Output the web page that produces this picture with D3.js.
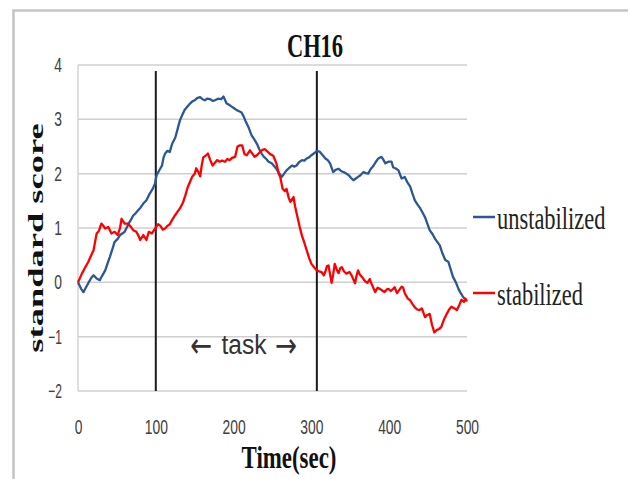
<!DOCTYPE html>
<html>
<head>
<meta charset="utf-8">
<script src="https://cdn.jsdelivr.net/npm/d3@7"></script>
<style>
  html, body { margin: 0; padding: 0; background: #fff; }
  svg { display: block; }
</style>
</head>
<body>
<svg id="chart" width="628" height="479"></svg>
<script>
// ---- data ----
const titleText = "CH16";
const yTicks = [-2, -1, 0, 1, 2, 3, 4];
const xTicks = [0, 100, 200, 300, 400, 500];
const taskMarkers = [100, 307];
const seriesNames = ["unstabilized", "stabilized"];

const blueTime = [0,4,7,10,13,17,20,24,28,31,35,38,41,44,47,51,54,57,60,63,65,68,71,74,77,80,84,88,92,96,99,101,104,108,110,112,115,118,121,125,128,131,134,137,141,144,147,150,153,157,160,163,166,170,173,176,180,184,187,191,194,198,201,204,207,210,213,215,219,223,227,230,233,236,239,242,245,249,252,255,258,262,265,268,271,275,278,281,284,288,291,294,297,300,304,307,311,314,318,321,324,328,331,335,338,341,344,348,351,354,357,360,363,367,370,373,376,380,383,386,390,392,395,399,403,405,409,412,414,416,420,423,427,430,433,436,440,443,446,449,452,456,459,462,465,468,472,476,479,482,486,489,492,495,497];
const blueValue = [0,-0.12,-0.18,-0.1,-0.02,0.08,0.13,0.07,0.04,0.12,0.22,0.35,0.47,0.6,0.74,0.8,0.87,0.9,0.93,1.02,1.08,1.15,1.23,1.27,1.32,1.37,1.45,1.51,1.63,1.72,1.82,1.97,2.05,2.15,2.3,2.37,2.42,2.4,2.55,2.66,2.82,2.98,3.08,3.17,3.24,3.29,3.33,3.35,3.39,3.41,3.37,3.35,3.38,3.37,3.34,3.35,3.38,3.37,3.42,3.29,3.27,3.23,3.2,3.17,3.15,3.13,3.05,2.98,2.86,2.71,2.62,2.55,2.45,2.37,2.31,2.27,2.22,2.19,2.14,2.09,2.02,1.94,2.0,2.06,2.1,2.15,2.13,2.15,2.21,2.25,2.24,2.28,2.3,2.34,2.38,2.42,2.4,2.35,2.28,2.25,2.19,2.03,2.07,2.09,2.05,2.03,2.01,1.97,1.92,1.88,1.91,1.94,1.97,2.03,2.01,2.0,2.08,2.15,2.22,2.28,2.31,2.27,2.19,2.22,2.22,2.12,2.09,2.06,1.98,1.91,1.94,1.85,1.76,1.63,1.51,1.44,1.36,1.28,1.2,1.08,0.96,0.88,0.8,0.74,0.68,0.55,0.41,0.38,0.24,0.1,-0.01,-0.12,-0.2,-0.27,-0.3];

const redTime = [0,5,9,13,17,20,22,24,27,30,32,35,39,43,47,51,54,56,60,64,68,71,75,78,80,84,88,91,95,99,103,106,109,112,115,118,121,125,128,131,135,138,141,144,147,150,152,155,157,159,161,164,167,170,173,176,179,182,185,189,192,195,198,202,205,208,211,214,217,221,224,227,230,234,237,240,244,247,251,255,258,260,263,266,268,271,273,277,279,281,285,288,290,294,297,300,304,307,310,313,316,318,320,322,324,326,328,330,333,335,337,339,342,345,349,352,356,358,360,362,365,369,372,375,378,382,385,388,391,394,397,399,402,405,407,410,413,416,418,420,424,427,430,433,436,439,442,446,449,452,455,458,461,464,467,470,474,477,480,484,487,490,493,496,498,500];
const redValue = [0,0.16,0.27,0.37,0.5,0.59,0.75,0.9,0.95,1.08,1.05,0.99,1.02,0.9,0.93,0.87,1.0,1.17,1.08,1.08,1.02,0.96,0.93,0.85,0.78,0.87,0.78,0.93,0.9,0.99,1.07,1.04,0.97,0.99,1.04,1.07,1.15,1.24,1.3,1.36,1.47,1.6,1.75,1.85,1.95,2.0,2.1,2.02,1.95,2.15,2.3,2.33,2.37,2.25,2.15,2.2,2.25,2.22,2.24,2.22,2.27,2.25,2.29,2.31,2.5,2.52,2.52,2.36,2.34,2.43,2.37,2.31,2.34,2.4,2.44,2.45,2.4,2.36,2.33,2.19,2.0,1.94,1.72,1.68,1.72,1.55,1.48,1.57,1.4,1.27,1.02,0.85,0.77,0.59,0.45,0.34,0.27,0.22,0.2,0.19,0.13,0.2,0.3,0.31,0.15,-0.01,0.15,0.34,0.22,0.17,0.26,0.28,0.2,0.16,0.19,0.12,-0.02,0.12,0.22,0.15,0.1,0.02,-0.01,0.06,-0.05,-0.18,-0.1,-0.12,-0.15,-0.18,-0.13,-0.12,-0.16,-0.12,-0.09,-0.2,-0.14,-0.08,-0.1,-0.2,-0.3,-0.33,-0.4,-0.46,-0.5,-0.51,-0.48,-0.64,-0.6,-0.58,-0.78,-0.92,-0.88,-0.86,-0.82,-0.7,-0.58,-0.5,-0.45,-0.48,-0.51,-0.42,-0.32,-0.36,-0.3,-0.35];

// ---- drawing ----
const svg = d3.select("#chart");
const colors = ["#2b5797", "#ff0000"];
const x = d3.scaleLinear().domain([0, 500]).range([78, 467]);
const y = d3.scaleLinear().domain([-2, 4]).range([391, 65]);
const serif = "Liberation Serif, Times New Roman, serif";
const sans = "Liberation Sans, Arial, sans-serif";

// outer frame (top + left edges)
svg.append("path")
  .attr("d", "M13.5,479 L13.5,10.5 L628,10.5")
  .attr("fill", "none").attr("stroke", "#c4c4c4").attr("stroke-width", 2.5);

// gridlines
svg.append("g").selectAll("line").data(yTicks).join("line")
  .attr("x1", x(0)).attr("x2", x(500))
  .attr("y1", d => y(d)).attr("y2", d => y(d))
  .attr("stroke", "#cfcfcf").attr("stroke-width", 1.5);
// left axis line
svg.append("line")
  .attr("x1", x(0)).attr("x2", x(0)).attr("y1", y(4)).attr("y2", y(-2))
  .attr("stroke", "#d4d4d4").attr("stroke-width", 1.5);

function charW(s) { let w = 0; for (const c of s) w += (c === "-" ? 6 : 7.7); return w; }

// y axis
const gy = svg.append("g").attr("transform", `translate(${x(0)},0)`)
  .call(d3.axisLeft(y).tickValues(yTicks).tickSize(0).tickPadding(16).tickFormat(d3.format("d")));
gy.select(".domain").remove();
gy.selectAll("text")
  .attr("font-family", sans).attr("font-size", 20).attr("fill", "#404040")
  .attr("lengthAdjust", "spacingAndGlyphs").attr("textLength", d => charW(String(d)));

// x axis
const gx = svg.append("g").attr("transform", `translate(0,${y(-2)})`)
  .call(d3.axisBottom(x).tickValues(xTicks).tickSize(0).tickPadding(29).tickFormat(d3.format("d")));
gx.select(".domain").remove();
gx.selectAll("text")
  .attr("font-family", sans).attr("font-size", 20).attr("fill", "#404040")
  .attr("lengthAdjust", "spacingAndGlyphs").attr("textLength", d => charW(String(d)));

// task markers
svg.append("g").selectAll("line").data(taskMarkers).join("line")
  .attr("x1", d => x(d)).attr("x2", d => x(d))
  .attr("y1", 71).attr("y2", y(-2))
  .attr("stroke", "#1a1a1a").attr("stroke-width", 2);

// series
const series = [
  blueTime.map((t, i) => [t, blueValue[i]]),
  redTime.map((t, i) => [t, redValue[i]])
];
const line = d3.line().x(d => x(d[0])).y(d => y(d[1]));
svg.append("g").selectAll("path").data(series).join("path")
  .attr("d", line).attr("fill", "none")
  .attr("stroke", (d, i) => colors[i]).attr("stroke-width", 2.3)
  .attr("stroke-linejoin", "round");

// task label: arrows + word
const taskG = svg.append("g").attr("fill", "#333");
taskG.append("text").attr("x", 201).attr("y", 357).attr("text-anchor", "middle")
  .attr("font-family", "DejaVu Sans, sans-serif").attr("font-size", 34)
  .attr("lengthAdjust", "spacingAndGlyphs").attr("textLength", 22)
  .text("\u2190");
taskG.append("text").attr("x", 244).attr("y", 354).attr("text-anchor", "middle")
  .attr("font-family", sans).attr("font-size", 27)
  .attr("lengthAdjust", "spacingAndGlyphs").attr("textLength", 45)
  .text("task");
taskG.append("text").attr("x", 286).attr("y", 357).attr("text-anchor", "middle")
  .attr("font-family", "DejaVu Sans, sans-serif").attr("font-size", 34)
  .attr("lengthAdjust", "spacingAndGlyphs").attr("textLength", 22)
  .text("\u2192");

// title
svg.append("text").attr("transform", "translate(315,57) scale(0.75,1.15)").attr("text-anchor", "middle")
  .attr("font-family", serif).attr("font-weight", "bold")
  .attr("font-size", 30).attr("fill", "#111")
  .text(titleText);

// y title
svg.append("text").attr("transform", "translate(43,238) rotate(-90) scale(1.66,1)").attr("text-anchor", "middle")
  .attr("font-family", serif).attr("font-weight", "bold")
  .attr("font-size", 22).attr("fill", "#111")
  .text("standard score");

// x title
svg.append("text").attr("transform", "translate(289,468) scale(0.88,1.22)").attr("text-anchor", "middle")
  .attr("font-family", serif).attr("font-weight", "bold")
  .attr("font-size", 26).attr("fill", "#111")
  .text("Time(sec)");

// legend
const legendY = [217, 293];
const lg = svg.append("g").selectAll("g").data(seriesNames).join("g")
  .attr("transform", (d, i) => `translate(473,${legendY[i]})`);
lg.append("line").attr("x1", 0).attr("x2", 22).attr("y1", 0).attr("y2", 0)
  .attr("stroke", (d, i) => colors[i]).attr("stroke-width", 2.5);
lg.append("text").attr("transform", "translate(24,12) scale(1.02,1.4)")
  .attr("font-family", serif)
  .attr("font-size", 22).attr("fill", "#222")
  .text(d => d);
</script>
</body>
</html>
